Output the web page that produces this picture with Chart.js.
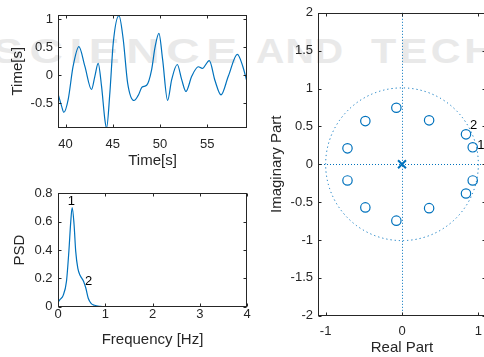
<!DOCTYPE html>
<html>
<head>
<meta charset="utf-8">
<script src="https://cdn.jsdelivr.net/npm/chart.js@4.4.1/dist/chart.umd.min.js"></script>
<style>
  html, body { margin: 0; padding: 0; background: #fff; }
  body { width: 484px; height: 357px; overflow: hidden; position: relative; }
  .wm { position: absolute; top: 31px; color: #e9e9e9; font: bold 35px 'Liberation Sans', Arial, sans-serif;
        white-space: nowrap; transform-origin: left top; }
  canvas { position: absolute; }
</style>
</head>
<body>
<div class="wm" style="left:-8px; letter-spacing:5px; transform:scaleX(1.32)">SCIENCE</div>
<div class="wm" style="left:256px; letter-spacing:1px; transform:scaleX(1.12)">AND</div>
<div class="wm" style="left:371px; letter-spacing:3px; transform:scaleX(1.18)">TECHNOLOGY</div>

<canvas id="timeChart" width="256" height="170" style="left:0; top:0"></canvas>
<canvas id="psdChart" width="256" height="187" style="left:0; top:170px"></canvas>
<canvas id="zplaneChart" width="230" height="357" style="left:260px; top:0"></canvas>

<script>
// time series (top left)
const timeSec = [39.2, 39.58, 39.82, 40.28, 40.8, 41.41, 42.04, 42.75, 43.1, 43.45, 43.81, 44.16, 44.34,
  44.69, 45.05, 45.65, 46.1, 46.57, 47.24, 47.69, 48.11, 48.58, 49.11, 49.46, 49.88, 50.27, 50.8, 51.23,
  51.82, 52.29, 52.74, 53.35, 54.05, 54.47, 55.21, 55.82, 56.45, 57.22, 58.18, 58.75, 59.2];
const signal = [-0.33, -0.55, -0.66, -0.43, 0.16, 0.51, 0.16, -0.255, -0.02, 0.21, -0.2, -0.79, -0.94,
  -0.31, 0.58, 1.06, 0.64, -0.14, -0.45, -0.36, -0.21, -0.18, 0.1, 0.49, 0.745, 0.28, -0.45, -0.08,
  0.19, -0.08, -0.29, -0.02, 0.15, 0.12, 0.26, -0.1, -0.35, -0.02, 0.37, 0.16, -0.12];
const timeTicks = [40, 45, 50, 55];
const signalTicks = [-0.5, 0, 0.5, 1];

// power spectral density (bottom left)
const freqHz = [0, 0.04, 0.11, 0.18, 0.23, 0.27, 0.30, 0.34, 0.375, 0.42, 0.47, 0.54, 0.59, 0.64, 0.70,
  0.77, 0.89, 1.0, 2.0, 3.0, 4.0];
const psd = [0.03, 0.05, 0.08, 0.18, 0.39, 0.60, 0.70, 0.58, 0.39, 0.27, 0.22, 0.18, 0.13, 0.06, 0.024,
  0.01, 0.002, 0, 0, 0, 0];
const freqTicks = [0, 1, 2, 3, 4];
const psdTicks = [0, 0.2, 0.4, 0.6, 0.8];
const psdLabelText = ['1', '2'];
const psdLabelF = [0.205, 0.57];
const psdLabelV = [0.745, 0.18];

// pole-zero plot (right)
const zeroRe = [-0.074, -0.48, -0.714, 0.355, 0.838, 0.926, -0.074, -0.48, -0.714, 0.355, 0.838, 0.926];
const zeroIm = [0.746, 0.57, 0.21, 0.58, 0.395, 0.224, -0.745, -0.57, -0.214, -0.58, -0.386, -0.214];
const poleRe = [0];
const poleIm = [0];
const reTicks = [-1, 0, 1];
const imTicks = [-2, -1.5, -1, -0.5, 0, 0.5, 1, 1.5, 2];
const zLabelText = ['2', '1'];
const zLabelRe = [0.89, 0.985];
const zLabelIm = [0.51, 0.255];

const axisColor = '#262626';
const lineBlue = '#0072BD';
Chart.defaults.font.family = "'Liberation Sans', Arial, Helvetica, sans-serif";
Chart.defaults.color = axisColor;

// MATLAB style box with inward ticks on all four sides
const matlabBox = {
  id: 'matlabBox',
  afterDatasetsDraw(chart) {
    const { ctx, chartArea: a, scales } = chart;
    const l = Math.round(a.left) + 0.5, r = Math.round(a.right) - 0.5;
    const t = Math.round(a.top) + 0.5, b = Math.round(a.bottom) - 0.5;
    ctx.save();
    ctx.strokeStyle = axisColor;
    ctx.lineWidth = 1;
    ctx.strokeRect(l, t, r - l, b - t);
    ctx.beginPath();
    scales.x.ticks.forEach(tk => {
      const px = Math.round(scales.x.getPixelForValue(tk.value)) + 0.5;
      ctx.moveTo(px, b); ctx.lineTo(px, b - 3);
      ctx.moveTo(px, t); ctx.lineTo(px, t + 3);
    });
    scales.y.ticks.forEach(tk => {
      const py = Math.round(scales.y.getPixelForValue(tk.value)) + 0.5;
      ctx.moveTo(l, py); ctx.lineTo(l + 3, py);
      ctx.moveTo(r, py); ctx.lineTo(r - 3, py);
    });
    ctx.stroke();
    ctx.restore();
  }
};

// text labels placed in data coordinates
const textLabels = {
  id: 'textLabels',
  afterDraw(chart, args, opts) {
    if (!opts.text) return;
    const { ctx, scales } = chart;
    ctx.save();
    ctx.fillStyle = '#000';
    ctx.font = "13px 'Liberation Sans', Arial, sans-serif";
    ctx.textAlign = 'left';
    ctx.textBaseline = 'middle';
    opts.text.forEach((s, i) => {
      ctx.fillText(s, scales.x.getPixelForValue(opts.xs[i]), scales.y.getPixelForValue(opts.ys[i]));
    });
    ctx.restore();
  }
};

// unit circle and dotted axes for the z-plane
const zGuides = {
  id: 'zGuides',
  beforeDatasetsDraw(chart) {
    const { ctx, chartArea: a, scales } = chart;
    const x0 = scales.x.getPixelForValue(0), y0 = scales.y.getPixelForValue(0);
    const rad = scales.x.getPixelForValue(1) - x0;
    ctx.save();
    ctx.strokeStyle = lineBlue;
    ctx.lineWidth = 1;
    ctx.setLineDash([1, 2]);
    ctx.beginPath();
    ctx.moveTo(Math.round(x0) + 0.5, a.top); ctx.lineTo(Math.round(x0) + 0.5, a.bottom);
    ctx.moveTo(a.left, Math.round(y0) + 0.5); ctx.lineTo(a.right, Math.round(y0) + 0.5);
    ctx.stroke();
    ctx.setLineDash([1.2, 3]);
    ctx.beginPath();
    ctx.arc(x0, y0, rad, 0, Math.PI * 2);
    ctx.stroke();
    ctx.restore();
  }
};

function axis(min, max, tickVals, title, size, tickPad, titlePad) {
  return {
    type: 'linear',
    min: min,
    max: max,
    grid: { display: false, drawTicks: false },
    border: { display: false },
    ticks: { padding: tickPad, color: axisColor, font: { size: 13 }, callback: v => String(v) },
    afterBuildTicks: s => { s.ticks = tickVals.map(v => ({ value: v })); },
    afterFit: s => { if (s.isHorizontal()) s.height = size; else s.width = size; },
    title: { display: true, text: title, color: axisColor, font: { size: 15 }, padding: titlePad }
  };
}

new Chart(document.getElementById('timeChart'), {
  type: 'line',
  data: {
    datasets: [{
      data: timeSec.map((t, i) => ({ x: t, y: signal[i] })),
      borderColor: lineBlue,
      borderWidth: 1.2,
      pointRadius: 0,
      cubicInterpolationMode: 'monotone'
    }]
  },
  options: {
    responsive: false,
    animation: false,
    layout: { autoPadding: false, padding: { top: 14.5, right: 9, left: 0, bottom: 0 } },
    plugins: { legend: { display: false }, tooltip: { enabled: false } },
    scales: {
      x: axis(39.2, 59.2, timeTicks, 'Time[s]', 42, 8.2, { top: 0, bottom: 0 }),
      y: axis(-0.94, 1.08, signalTicks, 'Time[s]', 58, 5, { top: 8.8, bottom: 0 })
    }
  },
  plugins: [matlabBox]
});

new Chart(document.getElementById('psdChart'), {
  type: 'line',
  data: {
    datasets: [{
      data: freqHz.map((f, i) => ({ x: f, y: psd[i] })),
      borderColor: lineBlue,
      borderWidth: 1.2,
      pointRadius: 0,
      cubicInterpolationMode: 'monotone'
    }]
  },
  options: {
    responsive: false,
    animation: false,
    layout: { autoPadding: false, padding: { top: 23.3, right: 9, left: 0, bottom: 0 } },
    plugins: {
      legend: { display: false }, tooltip: { enabled: false },
      textLabels: { text: psdLabelText, xs: psdLabelF, ys: psdLabelV }
    },
    scales: {
      x: axis(0, 4, freqTicks, 'Frequency [Hz]', 50.3, 0, { top: 0, bottom: 8.5 }),
      y: axis(0, 0.8, psdTicks, 'PSD', 58, 5.5, { top: 11, bottom: 0 })
    }
  },
  plugins: [matlabBox, textLabels]
});

new Chart(document.getElementById('zplaneChart'), {
  type: 'scatter',
  data: {
    datasets: [{
      data: zeroRe.map((re, i) => ({ x: re, y: zeroIm[i] })),
      pointStyle: 'circle',
      pointRadius: 4.7,
      borderColor: lineBlue,
      backgroundColor: 'rgba(0,0,0,0)',
      borderWidth: 1.2
    }, {
      data: poleRe.map((re, i) => ({ x: re, y: poleIm[i] })),
      pointStyle: 'crossRot',
      pointRadius: 5.6,
      borderColor: lineBlue,
      borderWidth: 2
    }]
  },
  options: {
    responsive: false,
    animation: false,
    layout: { autoPadding: false, padding: { top: 11.7, right: 4, left: 0, bottom: 0 } },
    plugins: {
      legend: { display: false }, tooltip: { enabled: false },
      textLabels: { text: zLabelText, xs: zLabelRe, ys: zLabelIm }
    },
    scales: {
      x: axis(-1.1, 1.1, reTicks, 'Real Part', 41.3, 7.5, { top: 0, bottom: 0 }),
      y: axis(-2, 2, imTicks, 'Imaginary Part', 58, 5, { top: 8, bottom: 0 })
    }
  },
  plugins: [zGuides, matlabBox, textLabels]
});
</script>
</body>
</html>
